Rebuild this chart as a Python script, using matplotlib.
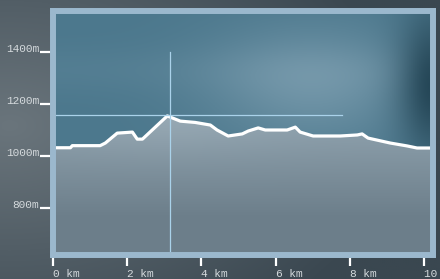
import numpy as np
import matplotlib
matplotlib.use("Agg")
import matplotlib.pyplot as plt
from matplotlib.colors import to_rgb

# ---- data ----
distance_km = [0.0, 0.06, 0.47, 0.52, 1.27, 1.41, 1.73, 2.14, 2.27, 2.41, 3.08, 3.29, 3.43,
               3.83, 4.24, 4.42, 4.72, 5.10, 5.26, 5.53, 5.72, 6.31, 6.53, 6.66, 7.01,
               7.74, 8.20, 8.33, 8.49, 9.09, 9.54, 9.81, 10.16, 10.3]
elevation_m = [1032, 1032, 1032, 1040, 1040, 1050, 1088, 1092, 1065, 1065, 1154, 1142, 1134,
               1129, 1119, 1100, 1077, 1085, 1096, 1108, 1100, 1100, 1111, 1092, 1077,
               1077, 1081, 1085, 1069, 1050, 1039, 1031, 1031, 1031]
x_ticks = [0, 2, 4, 6, 8, 10]
x_tick_labels = ["0 km", "2 km", "4 km", "6 km", "8 km", "10 km"]
y_ticks = [800, 1000, 1200, 1400]
y_tick_labels = ["800m", "1000m", "1200m", "1400m"]
cursor_x = 3.14
cursor_y = 1157
cursor_v_top = 1400
cursor_h_end = 7.78

W, H = 440, 279
fig = plt.figure(figsize=(W / 100, H / 100), dpi=100)

# figure background gradient
bg = fig.add_axes([0, 0, 1, 1])
bg.set_axis_off()
yy, xx = np.mgrid[0:1:140j, 0:1:220j]
c_light = np.array(to_rgb("#6a757c"))
c_dark = np.array(to_rgb("#3a4750"))
t = np.clip(np.sqrt(((xx - 0.02) / 0.9) ** 2 + ((yy - 0.45) / 0.9) ** 2), 0, 1)
img = c_light[None, None, :] * (1 - t[..., None]) + c_dark[None, None, :] * t[..., None]
bg.imshow(img, extent=[0, 1, 0, 1], aspect="auto", origin="upper")
bg.set_xlim(0, 1)
bg.set_ylim(0, 1)

# main axes: box from px x 53..433, y 11..255
L, R, T, B = 53, 433, 11, 255
ax = fig.add_axes([L / W, 1 - B / H, (R - L) / W, (B - T) / H])
xmin, xmax = 0, 10.24
ymin, ymax = 621, 1556
ax.set_xlim(xmin, xmax)
ax.set_ylim(ymin, ymax)

# sky gradient
gy, gx = np.mgrid[0:1:120j, 0:1:200j]
sky_base = np.array(to_rgb("#4c788d"))
sky_light = np.array(to_rgb("#7a9cae"))
sky_dark = np.array(to_rgb("#1f4050"))
glow = np.exp(-(((gx - 0.68) / 0.28) ** 2 + ((gy - 0.3) / 0.25) ** 2)) * 0.75
band = np.exp(-((gy - 0.24) / 0.1) ** 2) * 0.15
w = np.clip(glow + band, 0, 1)
sky = sky_base * (1 - w[..., None]) + sky_light * w[..., None]
dark = np.exp(-(((gx - 1.0) / 0.09) ** 2 + ((gy - 0.3) / 0.3) ** 2)) * 0.9
sky = sky * (1 - dark[..., None]) + sky_dark * dark[..., None]
ax.imshow(np.clip(sky, 0, 1), extent=[xmin, xmax, ymin, ymax], aspect="auto",
          origin="upper", zorder=0)

# ground fill with gradient
poly = ax.fill_between(distance_km, elevation_m, ymin, color="none", zorder=1)
g_top = np.array(to_rgb("#93a6b2"))
g_bot = np.array(to_rgb("#6c7e8a"))
fy, fx = np.mgrid[0:1:120j, 0:1:200j]
tt = np.clip((fy - 0.4) / 0.45, 0, 1)
hl = np.exp(-(((fx - 0.3) / 0.3) ** 2 + ((fy - 0.42) / 0.15) ** 2)) * 0.35
ground = g_top * (1 - tt[..., None]) + g_bot * tt[..., None]
ground = ground * (1 - hl[..., None]) + np.array(to_rgb("#a3b3bd")) * hl[..., None]
gim = ax.imshow(np.clip(ground, 0, 1), extent=[xmin, xmax, ymin, ymax], aspect="auto",
                origin="upper", zorder=1)
gim.set_clip_path(poly.get_paths()[0], transform=ax.transData)

# elevation line
ax.plot(distance_km, elevation_m, color="white", lw=2.3, solid_joinstyle="round",
        solid_capstyle="round", zorder=3)

# crosshair
ax.plot([cursor_x, cursor_x], [ymin, cursor_v_top], color="#aad2ea", lw=0.9, zorder=4)
ax.plot([xmin, cursor_h_end], [cursor_y, cursor_y], color="#aad2ea", lw=0.9, zorder=4)

# frame
for s in ax.spines.values():
    s.set_color("#9bb8cd")
    s.set_linewidth(4.3)
    s.set_zorder(5)

mono = "Liberation Mono"
ax.set_xticks(x_ticks)
ax.set_xticklabels(x_tick_labels, fontfamily=mono, fontsize=8, color="#d5dadd", ha="left")
ax.set_yticks(y_ticks)
ax.set_yticklabels(y_tick_labels, fontfamily=mono, fontsize=8, color="#d5dadd")
for lbl in ax.get_yticklabels():
    lbl.set_verticalalignment("baseline")
ax.tick_params(axis="x", direction="out", length=8.2, width=1.6, color="white", pad=2.2)
ax.tick_params(axis="y", direction="out", length=9.6, width=1.6, color="white", pad=0.5)

fig.savefig("out.png", dpi=100)
